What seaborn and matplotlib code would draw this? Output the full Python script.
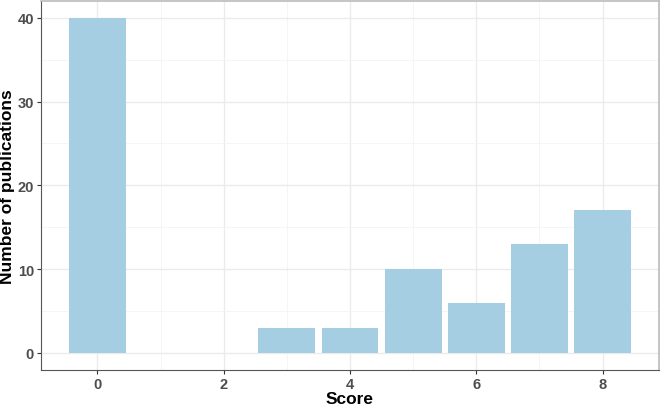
import matplotlib
matplotlib.use("Agg")
import matplotlib.pyplot as plt
import seaborn as sns
import pandas as pd
from matplotlib.ticker import MultipleLocator

scores = [0, 1, 2, 3, 4, 5, 6, 7, 8]
counts = [40, 0, 0, 3, 3, 10, 6, 13, 17]
x_ticks = [0, 2, 4, 6, 8]
y_ticks = [0, 10, 20, 30, 40]

df = pd.DataFrame({"Score": scores, "Count": counts})

sns.set_theme(style="white")
plt.rcParams['font.family'] = ['Liberation Sans', 'DejaVu Sans']

fig = plt.figure(figsize=(6.61, 4.06), dpi=100)
ax = fig.add_axes([0.062, 0.087, 0.935, 0.908])

sns.barplot(data=df, x="Score", y="Count", native_scale=True, width=0.9,
            color="#A6CEE3", saturation=1, edgecolor="none", ax=ax, zorder=3)

ax.set_xlim(-0.895, 8.895)
ax.set_ylim(-2, 42)
ax.set_xticks(x_ticks)
ax.set_xticklabels([str(t) for t in x_ticks])
ax.set_yticks(y_ticks)
ax.set_yticklabels([str(t) for t in y_ticks])
ax.xaxis.set_minor_locator(MultipleLocator(1))
ax.yaxis.set_minor_locator(MultipleLocator(5))

ax.grid(True, which="major", color="#EBEBEB", linewidth=1.0, zorder=0)
ax.grid(True, which="minor", color="#F4F4F4", linewidth=0.6, zorder=0)
ax.set_axisbelow(True)

for s in ["left", "bottom"]:
    ax.spines[s].set_color("#555555")
    ax.spines[s].set_linewidth(0.8)
for s in ["top", "right"]:
    ax.spines[s].set_color("#BBBBBB")
    ax.spines[s].set_linewidth(1.2)

ax.tick_params(axis="both", which="major", length=3, width=0.8, color="#333333",
               labelsize=10.5, labelcolor="#4D4D4D", pad=2, bottom=True, left=True)
ax.tick_params(axis="both", which="minor", length=0)
for lab in ax.get_xticklabels() + ax.get_yticklabels():
    lab.set_fontweight("bold")

ax.set_xlabel("Score", fontsize=12.5, fontweight="bold", color="black", labelpad=0)
ax.set_ylabel("Number of publications", fontsize=12.5, fontweight="bold", color="black", labelpad=1.5)

fig.savefig("out.png", dpi=100)
